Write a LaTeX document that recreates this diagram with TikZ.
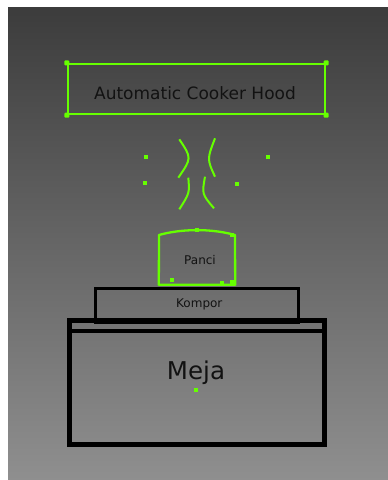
\documentclass[tikz,border=0pt]{standalone}
\usepackage{fontspec}
\setmainfont{DejaVu Sans}
\definecolor{lime}{RGB}{102,255,0}
\definecolor{ink}{RGB}{18,18,18}
\begin{document}
\begin{tikzpicture}[x=1pt,y=-1pt,
  greenbox/.style={draw=lime,line width=2.3pt,inner sep=0pt},
  blackbox/.style={draw=black,inner sep=0pt},
  txt/.style={text=ink,inner sep=0pt,anchor=base},
  smoke/.style={draw=lime,line width=2pt},
  handle/.style={fill=lime,draw=none,minimum size=4pt,inner sep=0pt}]
\useasboundingbox (0,0) rectangle (388,480);
\shade[top color={rgb,255:red,60;green,60;blue,60},bottom color={rgb,255:red,143;green,143;blue,143}] (8,7) rectangle (388,480);
% hood
\node[greenbox,minimum width=257pt,minimum height=50pt] (hood) at (196.5,89) {};
\node[txt,font=\fontsize{17}{20}\selectfont] (hoodtxt) at (195,99.3) {Automatic Cooker Hood};
\foreach \c in {north west,north east,south west,south east}
  \node[handle,minimum size=5pt,rounded corners=1pt] at (hood.\c) {};
% smoke
\coordinate (s1a) at (179.3,139.3); \coordinate (s1b) at (178.3,177.7);
\coordinate (s2a) at (215,138.3); \coordinate (s2b) at (215,176.7);
\coordinate (s3a) at (188.3,177.7); \coordinate (s3b) at (179.3,209.3);
\coordinate (s4a) at (205,176.7); \coordinate (s4b) at (214,208.3);
\draw[smoke] (s1a) .. controls (191.8,158.1) .. (s1b);
\draw[smoke] (s2a) .. controls (207,159.1) .. (s2b);
\draw[smoke] (s3a) .. controls (189.6,193.1) .. (s3b);
\draw[smoke] (s4a) .. controls (201.9,194.1) .. (s4b);
\node[handle] (d1) at (146,157.3) {};
\node[handle] (d2) at (144.7,183.3) {};
\node[handle] (d3) at (268.3,157.3) {};
\node[handle] (d4) at (237,184.3) {};
% kompor
\node[blackbox,line width=3pt,minimum width=203pt,minimum height=34pt] (kompor) at (196.7,305) {};
\node[txt,font=\fontsize{12}{14}\selectfont] (komportxt) at (199.3,307.3) {Kompor};
% panci
\node[minimum width=76pt,minimum height=50pt,inner sep=0pt] (panci) at (197,259.5) {};
\draw[draw=lime,line width=2.3pt,line join=round] (panci.south west) -- (159,235) .. controls (180,229) and (210,228) .. (235,235) -- (panci.south east) -- cycle;
\node[txt,font=\fontsize{12}{14}\selectfont] (pancitxt) at (200,264) {Panci};
\node[handle] at (196.7,229.5) {};
\node[handle] at (171.7,280.3) {};
\node[handle] at (221.7,282.7) {};
\node[handle] at (232.3,282) {};
\node[handle] at (232.3,235) {};
% meja
\node[blackbox,line width=5pt,minimum width=255pt,minimum height=124pt] (meja) at (196.5,382) {};
\draw[line width=4.5pt] ([xshift=2pt]meja.west |- 0,331) -- ([xshift=-2pt]meja.east |- 0,331);
\node[txt,font=\fontsize{24.5}{28}\selectfont] (mejatxt) at (196,379.3) {Meja};
\node[handle] (mejadot) at (196,390) {};
\end{tikzpicture}
\end{document}
